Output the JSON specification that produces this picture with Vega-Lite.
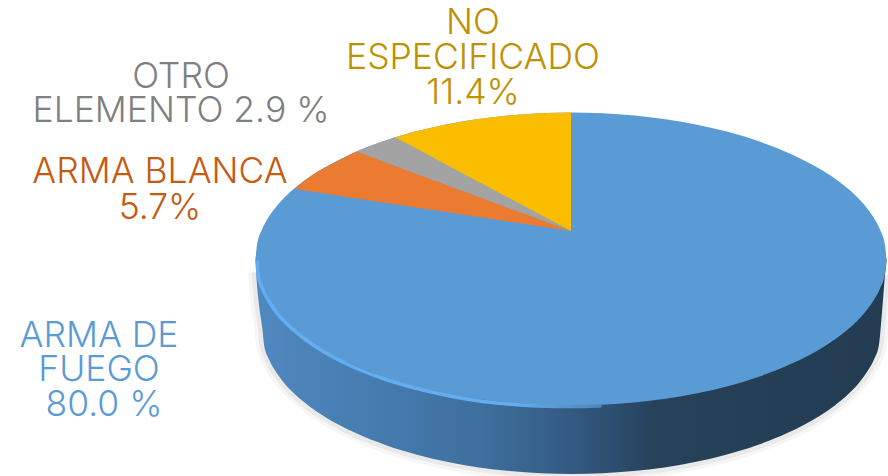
{"$schema":"https://vega.github.io/schema/vega-lite/v6.json","width":888,"height":476,"padding":0,"autosize":"none","background":"white","view":{"stroke":null},
"datasets":{
"rim":[{"x":256,"bottom":272},{"x":257,"bottom":285},{"x":259,"bottom":305},{"x":262.5,"bottom":330},{"x":264,"bottom":344.4},{"x":268.7,"bottom":358.7},{"x":274.9,"bottom":370.3},{"x":284.1,"bottom":382.9},{"x":293.4,"bottom":392.8},{"x":308.9,"bottom":405.9},{"x":324.3,"bottom":416.4},{"x":355.2,"bottom":432.8},{"x":386.1,"bottom":445.2},{"x":417,"bottom":454.7},{"x":448,"bottom":462},{"x":478.8,"bottom":467.4},{"x":509.7,"bottom":471},{"x":540.6,"bottom":473.3},{"x":571.5,"bottom":474},{"x":602.4,"bottom":473.3},{"x":633.3,"bottom":471},{"x":664.2,"bottom":467.4},{"x":695,"bottom":462},{"x":726,"bottom":454.7},{"x":756.9,"bottom":445.2},{"x":787.8,"bottom":432.8},{"x":818.7,"bottom":416.4},{"x":834.2,"bottom":405.9},{"x":849.6,"bottom":392.8},{"x":858.9,"bottom":382.9},{"x":868.1,"bottom":370.3},{"x":874.3,"bottom":358.7},{"x":879,"bottom":344.4},{"x":880.5,"bottom":330},{"x":883,"bottom":300},{"x":885,"bottom":275}],
"side":[{"x":255.5,"top":259,"bottom":262},{"x":257,"top":259,"bottom":285},{"x":259,"top":259,"bottom":305},{"x":262.5,"top":259,"bottom":330},{"x":264,"top":259,"bottom":344.4},{"x":268.7,"top":259,"bottom":358.7},{"x":274.9,"top":259,"bottom":370.3},{"x":284.1,"top":259,"bottom":382.9},{"x":293.4,"top":259,"bottom":392.8},{"x":308.9,"top":259,"bottom":405.9},{"x":324.3,"top":259,"bottom":416.4},{"x":355.2,"top":259,"bottom":432.8},{"x":386.1,"top":259,"bottom":445.2},{"x":417,"top":259,"bottom":454.7},{"x":448,"top":259,"bottom":462},{"x":478.8,"top":259,"bottom":467.4},{"x":509.7,"top":259,"bottom":471},{"x":540.6,"top":259,"bottom":473.3},{"x":571.5,"top":259,"bottom":474},{"x":602.4,"top":259,"bottom":473.3},{"x":633.3,"top":259,"bottom":471},{"x":664.2,"top":259,"bottom":467.4},{"x":695,"top":259,"bottom":462},{"x":726,"top":259,"bottom":454.7},{"x":756.9,"top":259,"bottom":445.2},{"x":787.8,"top":259,"bottom":432.8},{"x":818.7,"top":259,"bottom":416.4},{"x":834.2,"top":259,"bottom":405.9},{"x":849.6,"top":259,"bottom":392.8},{"x":858.9,"top":259,"bottom":382.9},{"x":868.1,"top":259,"bottom":370.3},{"x":874.3,"top":259,"bottom":358.7},{"x":879,"top":259,"bottom":344.4},{"x":880.5,"top":259,"bottom":330},{"x":883,"top":259,"bottom":300},{"x":885,"top":259,"bottom":275},{"x":886.5,"top":259,"bottom":262}],
"fuego":[{"x":255.5,"top":259,"bottom":259},{"x":257.1,"top":244.4,"bottom":273.6},{"x":261.8,"top":229.9,"bottom":288.1},{"x":268.1,"top":218,"bottom":300},{"x":277.6,"top":205.1,"bottom":312.9},{"x":287,"top":195.1,"bottom":322.9},{"x":302.8,"top":181.8,"bottom":336.2},{"x":318.6,"top":171.1,"bottom":346.9},{"x":350.1,"top":154.4,"bottom":363.6},{"x":381.7,"top":141.8,"bottom":376.2},{"x":413.2,"top":132.1,"bottom":385.9},{"x":444.8,"top":124.7,"bottom":393.3},{"x":476.3,"top":119.2,"bottom":398.8},{"x":507.9,"top":115.5,"bottom":402.5},{"x":539.4,"top":113.2,"bottom":404.8},{"x":571,"top":112.5,"bottom":405.5},{"x":602.6,"top":113.2,"bottom":404.8},{"x":634.1,"top":115.5,"bottom":402.5},{"x":665.7,"top":119.2,"bottom":398.8},{"x":697.2,"top":124.7,"bottom":393.3},{"x":728.8,"top":132.1,"bottom":385.9},{"x":760.3,"top":141.8,"bottom":376.2},{"x":791.9,"top":154.4,"bottom":363.6},{"x":823.4,"top":171.1,"bottom":346.9},{"x":839.2,"top":181.8,"bottom":336.2},{"x":855,"top":195.1,"bottom":322.9},{"x":864.4,"top":205.1,"bottom":312.9},{"x":873.9,"top":218,"bottom":300},{"x":880.2,"top":229.9,"bottom":288.1},{"x":884.9,"top":244.4,"bottom":273.6},{"x":886.5,"top":259,"bottom":259}],
"edge":[{"x":257.5,"y":262},{"x":258,"y":274},{"x":262.5,"y":289},{"x":268.8,"y":301},{"x":277.6,"y":314},{"x":287,"y":324},{"x":302.8,"y":337.5},{"x":318.6,"y":348.5},{"x":350,"y":365.5},{"x":381.7,"y":378},{"x":413,"y":387.5},{"x":445,"y":395},{"x":476,"y":400.5},{"x":508,"y":404},{"x":540,"y":406},{"x":571,"y":406.5},{"x":600,"y":406}],
"slices":[
{"slice":"ARMA BLANCA","share":5.7,"x":295,"top":189,"bottom":189},{"slice":"ARMA BLANCA","share":5.7,"x":302.8,"top":181.8,"bottom":190.2},{"slice":"ARMA BLANCA","share":5.7,"x":318.6,"top":171.1,"bottom":192.6},{"slice":"ARMA BLANCA","share":5.7,"x":350.1,"top":154.4,"bottom":197.4},{"slice":"ARMA BLANCA","share":5.7,"x":357,"top":151.5,"bottom":198.4},{"slice":"ARMA BLANCA","share":5.7,"x":571,"top":231,"bottom":231},
{"slice":"OTRO ELEMENTO","share":2.9,"x":357,"top":151.5,"bottom":151.5},{"slice":"OTRO ELEMENTO","share":2.9,"x":381.7,"top":141.8,"bottom":161.1},{"slice":"OTRO ELEMENTO","share":2.9,"x":395,"top":137.4,"bottom":166},{"slice":"OTRO ELEMENTO","share":2.9,"x":571,"top":231,"bottom":231},
{"slice":"NO ESPECIFICADO","share":11.4,"x":395,"top":137.4,"bottom":137.4},{"slice":"NO ESPECIFICADO","share":11.4,"x":413.2,"top":132.1,"bottom":147.1},{"slice":"NO ESPECIFICADO","share":11.4,"x":444.8,"top":124.7,"bottom":163.9},{"slice":"NO ESPECIFICADO","share":11.4,"x":476.3,"top":119.2,"bottom":180.7},{"slice":"NO ESPECIFICADO","share":11.4,"x":507.9,"top":115.5,"bottom":197.5},{"slice":"NO ESPECIFICADO","share":11.4,"x":539.4,"top":113.2,"bottom":214.2},{"slice":"NO ESPECIFICADO","share":11.4,"x":571,"top":112.5,"bottom":231}],
"labels":[
{"slice":"NO ESPECIFICADO","text":"NO","x":473,"y":23},{"slice":"NO ESPECIFICADO","text":"ESPECIFICADO","x":473,"y":58},{"slice":"NO ESPECIFICADO","text":"11.4%","x":473,"y":93},
{"slice":"OTRO ELEMENTO","text":"OTRO","x":181,"y":77},{"slice":"OTRO ELEMENTO","text":"ELEMENTO 2.9 %","x":181,"y":111},
{"slice":"ARMA BLANCA","text":"ARMA BLANCA","x":160,"y":172},{"slice":"ARMA BLANCA","text":"5.7%","x":160,"y":208},
{"slice":"ARMA DE FUEGO","text":"ARMA DE","x":99,"y":336},{"slice":"ARMA DE FUEGO","text":"FUEGO","x":99,"y":370},{"slice":"ARMA DE FUEGO","text":"80.0 %","x":104,"y":405}]
},
"encoding":{"x":{"field":"x","type":"quantitative","axis":null,"scale":{"domain":[0,888],"nice":false,"zero":false}}},
"layer":[
{"data":{"name":"rim"},"mark":{"type":"line","stroke":"#000000","strokeOpacity":0.035,"strokeWidth":16,"interpolate":"monotone"},"encoding":{"y":{"field":"bottom","type":"quantitative","axis":null,"scale":{"domain":[476,0],"nice":false,"zero":false}}}},
{"data":{"name":"rim"},"mark":{"type":"line","stroke":"#000000","strokeOpacity":0.05,"strokeWidth":9,"interpolate":"monotone"},"encoding":{"y":{"field":"bottom","type":"quantitative","axis":null,"scale":{"domain":[476,0],"nice":false,"zero":false}}}},
{"data":{"name":"side"},"mark":{"type":"area","interpolate":"monotone","fill":{"gradient":"linear","x1":0,"x2":1,"y1":0,"y2":0,"stops":[{"offset":0,"color":"#5088C0"},{"offset":0.2,"color":"#457BAE"},{"offset":0.36,"color":"#3E6F9D"},{"offset":0.5,"color":"#335A82"},{"offset":0.64,"color":"#264159"},{"offset":1,"color":"#233C52"}]}},"encoding":{"y":{"field":"top","type":"quantitative","axis":null,"scale":{"domain":[476,0],"nice":false,"zero":false}},"y2":{"field":"bottom"}}},
{"data":{"name":"fuego"},"mark":{"type":"area","interpolate":"monotone","fill":"#5B9BD5"},"encoding":{"y":{"field":"top","type":"quantitative","axis":null,"scale":{"domain":[476,0],"nice":false,"zero":false}},"y2":{"field":"bottom"}}},
{"data":{"name":"edge"},"mark":{"type":"line","strokeWidth":3.5,"interpolate":"monotone","strokeCap":"round","stroke":{"gradient":"linear","x1":0,"x2":1,"y1":0,"y2":0,"stops":[{"offset":0,"color":"#63AEF2"},{"offset":0.75,"color":"#63AEF2"},{"offset":1,"color":"#4F86B8"}]}},"encoding":{"y":{"field":"y","type":"quantitative","axis":null,"scale":{"domain":[476,0],"nice":false,"zero":false}}}},
{"data":{"name":"slices"},"mark":{"type":"area","interpolate":"linear"},"encoding":{"y":{"field":"top","type":"quantitative","axis":null,"scale":{"domain":[476,0],"nice":false,"zero":false}},"y2":{"field":"bottom"},"color":{"field":"slice","type":"nominal","legend":null,"scale":{"domain":["ARMA BLANCA","OTRO ELEMENTO","NO ESPECIFICADO"],"range":["#EA7B30","#A3A3A3","#FBBD00"]}}}},
{"data":{"name":"labels"},"mark":{"type":"text","font":"Inter","fontSize":35.5,"fontWeight":300,"align":"center","baseline":"middle"},"encoding":{"y":{"field":"y","type":"quantitative","axis":null,"scale":{"domain":[476,0],"nice":false,"zero":false}},"text":{"field":"text"},"fill":{"field":"slice","type":"nominal","legend":null,"scale":{"domain":["NO ESPECIFICADO","OTRO ELEMENTO","ARMA BLANCA","ARMA DE FUEGO"],"range":["#BF9000","#7F7F7F","#C55A11","#5B9BD5"]}}}}
],
"resolve":{"scale":{"color":"independent"}}
}
